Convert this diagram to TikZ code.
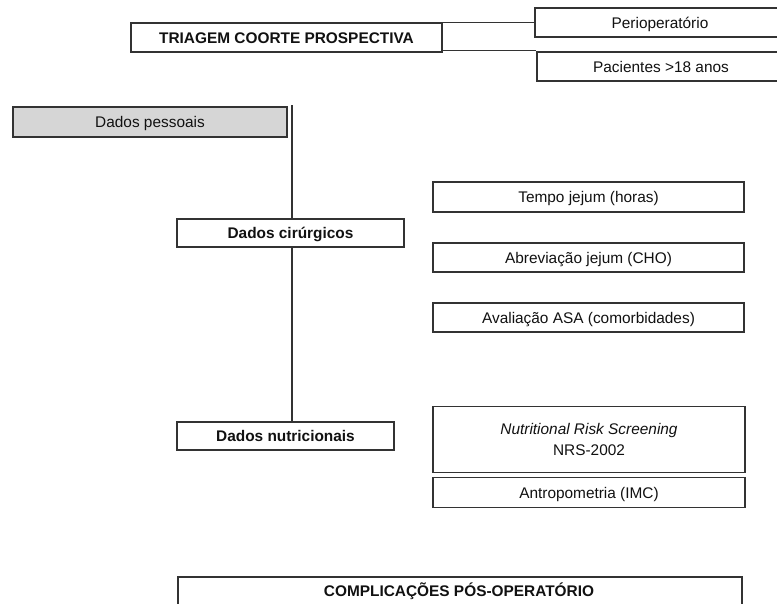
\documentclass[tikz,border=0pt]{standalone}
\usepackage{fontspec}
\setmainfont{Liberation Sans}
\definecolor{edge}{HTML}{333333}
\definecolor{greyfill}{HTML}{D6D6D6}
\definecolor{ink}{HTML}{111111}
\tikzset{
  box/.style={draw=edge, line width=1.3pt, fill=white, rectangle, inner sep=0pt,
    align=center, text=ink, font=\fontsize{15.4}{19}\selectfont,
    text height=12pt, text depth=1pt},
  boldbox/.style={box, font=\fontsize{15.4}{19}\selectfont\bfseries},
  link/.style={draw=edge, line width=1.1pt}
}
\begin{document}
\begin{tikzpicture}[x=1pt,y=-1pt]
\clip (0,0) rectangle (777,603);
\fill[white] (0,0) rectangle (777,603);
% top row
\node[boldbox, minimum width=311, minimum height=29] (triagem) at (286.5,37.5) {TRIAGEM COORTE PROSPECTIVA};
\node[box, minimum width=250, minimum height=29] (perio) at (660,22.5) {Perioperatório};
\node[box, minimum width=248, minimum height=29] (pac) at (661,66.5) {Pacientes >18 anos};
\draw[link] (triagem.north east) -- (triagem.north east -| perio.west);
\draw[link] ([yshift=2pt]triagem.south east) -- ([yshift=2pt]triagem.south east -| pac.west);
% left column
\node[box, fill=greyfill, minimum width=274, minimum height=30] (pessoais) at (150,122) {Dados pessoais};
\node[boldbox, minimum width=227, minimum height=28] (cir) at (290.5,233) {Dados cirúrgicos};
\node[boldbox, minimum width=217, minimum height=28] (nutri) at (285.5,436) {Dados nutricionais};
\coordinate (trunk) at (292,105);
\draw[link] (trunk) -- (trunk |- cir.north);
\draw[link] (trunk |- cir.south) -- (trunk |- nutri.north);
% right column
\node[box, minimum width=311, minimum height=30] (tempo) at (588.5,197) {Tempo jejum (horas)};
\node[box, minimum width=311, minimum height=29] (abrev) at (588.5,257.5) {Abreviação jejum (CHO)};
\node[box, minimum width=311, minimum height=29] (asa) at (588.5,317.5) {Avaliação ASA (comorbidades)};
\node[box, text height=, text depth=, minimum width=312, minimum height=66] (nrs) at (589,439.5) {\itshape Nutritional Risk Screening\\[2pt]NRS-2002};
\node[box, minimum width=312, minimum height=30] (antro) at (589,492.5) {Antropometria (IMC)};
% bottom
\node[boldbox, minimum width=564, minimum height=60] (comp) at (460,607) {};
\node[font=\fontsize{15.4}{19}\selectfont\bfseries, text=ink, inner sep=0pt] (comptext) at (459,591) {COMPLICAÇÕES PÓS-OPERATÓRIO};
\end{tikzpicture}
\end{document}
